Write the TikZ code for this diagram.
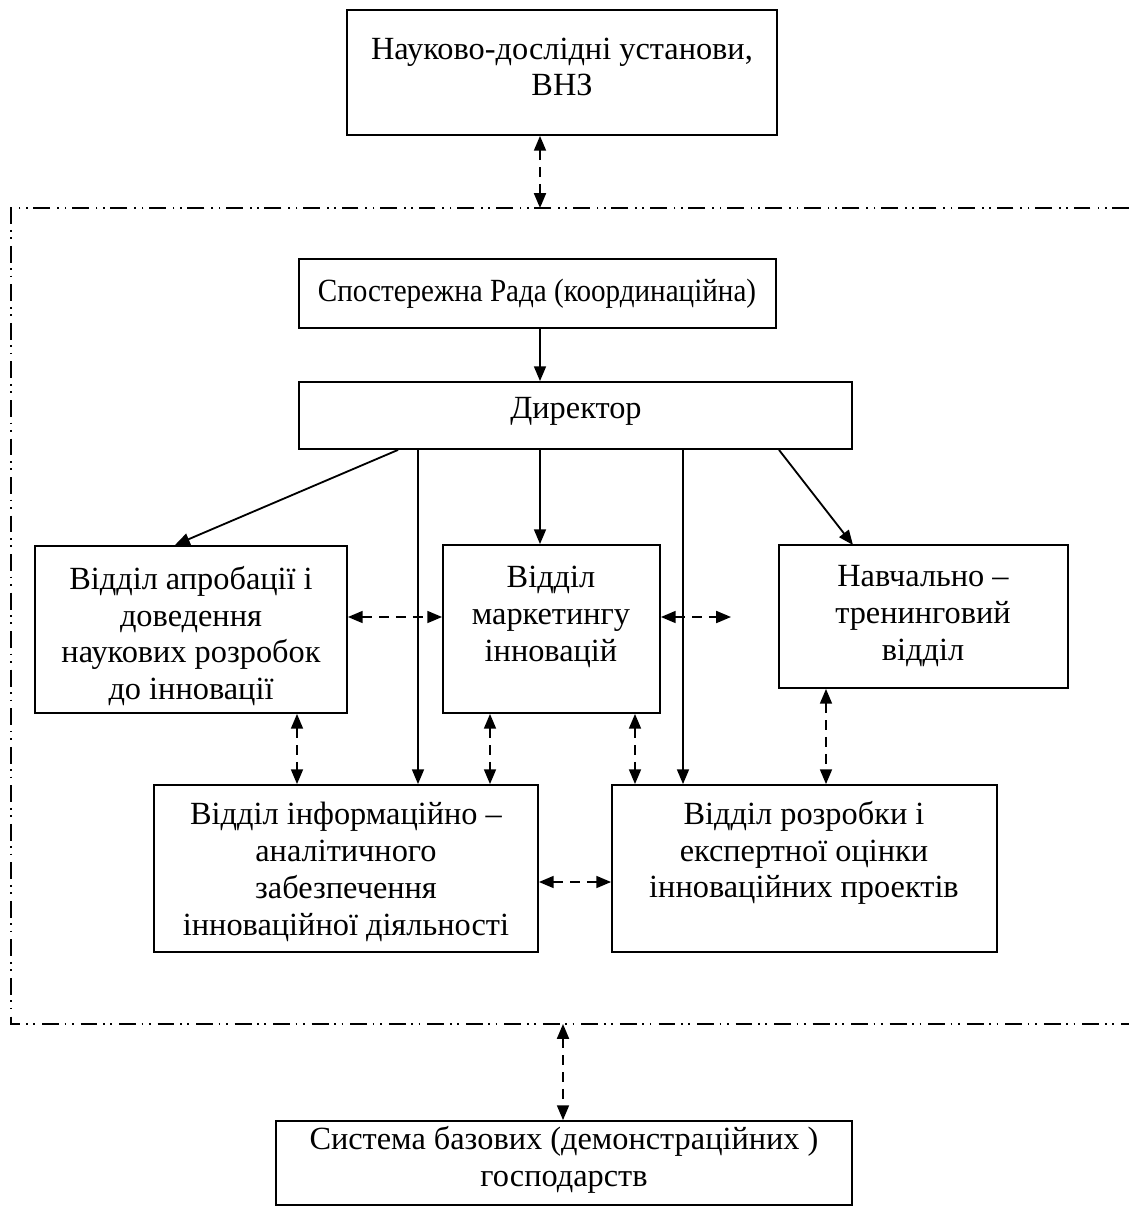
\documentclass[tikz,border=0pt]{standalone}
\usepackage{fontspec}
\usepackage{graphicx}
\setmainfont{Liberation Serif}
\usetikzlibrary{arrows.meta}
\begin{document}
\begin{tikzpicture}[x=0.025cm,y=-0.025cm,
  box/.style={draw,line width=1.3pt,inner sep=0pt},
  txt/.style={align=center,inner sep=0pt,font=\fontsize{23}{26.2}\selectfont},
  tip/.style={-{Triangle[length=10.5pt,width=8.5pt]},line width=1.3pt},
  dtip/.style={{Triangle[length=10.5pt,width=8.5pt]}-{Triangle[length=10.5pt,width=8.5pt]},line width=1.3pt,dash pattern=on 7pt off 5pt},
  frame/.style={line width=1pt,dash pattern=on 12pt off 4pt on 1.2pt off 4pt on 1.2pt off 5pt}]
\useasboundingbox (0,0) rectangle (1129,1211);
% boxes
\node[box,minimum width=430*0.025cm,minimum height=125*0.025cm] (nd) at (562,72.5) {};
\node[box,minimum width=477*0.025cm,minimum height=69*0.025cm] (sr) at (537.5,293.5) {};
\node[box,minimum width=553*0.025cm,minimum height=67*0.025cm] (dir) at (575.5,415.5) {};
\node[box,minimum width=312*0.025cm,minimum height=167*0.025cm] (ap) at (191,629.5) {};
\node[box,minimum width=217*0.025cm,minimum height=168*0.025cm] (mk) at (551.5,629) {};
\node[box,minimum width=289*0.025cm,minimum height=143*0.025cm] (nv) at (923.5,616.5) {};
\node[box,minimum width=384*0.025cm,minimum height=167*0.025cm] (ia) at (346,868.5) {};
\node[box,minimum width=385*0.025cm,minimum height=167*0.025cm] (rz) at (804.5,868.5) {};
\node[box,minimum width=576*0.025cm,minimum height=84*0.025cm] (sb) at (564,1163) {};
% texts
\node[txt] (tnd) at (562,67) {Науково-дослідні установи,\\ВНЗ};
\node[txt] (tsr) at (537,294) {\scalebox{0.9}[1]{Спостережна Рада (координаційна)}};
\node[txt] (tdir) at (576,411) {Директор};
\node[txt] (tap) at (191,636) {Відділ апробації і\\доведення\\наукових розробок\\до інновації};
\node[txt] (tmk) at (551,617) {Відділ\\маркетингу\\інновацій};
\node[txt] (tnv) at (923,616) {Навчально –\\тренинговий\\відділ};
\node[txt] (tia) at (346,872) {Відділ інформаційно –\\аналітичного\\забезпечення\\інноваційної діяльності};
\node[txt] (trz) at (804,853) {Відділ розробки і\\експертної оцінки\\інноваційних проектів};
\node[txt] (tsb) at (564,1160) {Система базових (демонстраційних )\\господарств};
% frame
\coordinate (fTR) at (1129,208);
\coordinate (fTL) at (11,208);
\coordinate (fBL) at (11,1024);
\coordinate (fBR) at (1129,1024);
\draw[frame] (fTR) -- (fTL) -- (fBL) -- (fBR);
% solid arrows
\draw[tip] (sr.south -| 540,0) -- (dir.north -| 540,0);
\draw[tip] (dir.south -| 398,0) -- (175,545);
\draw[tip] (dir.south -| 418,0) -- (ia.north -| 418,0);
\draw[tip] (dir.south -| 540,0) -- (mk.north -| 540,0);
\draw[tip] (dir.south -| 683,0) -- (rz.north -| 683,0);
\draw[tip] (dir.south -| 779,0) -- (853,545);
% dashed double arrows
\coordinate (fTop) at (540,208);
\coordinate (fBot) at (563,1024);
\coordinate (free) at (731,617);
\draw[dtip] (nd.south -| fTop) -- (fTop);
\draw[dtip] (ap.east |- 0,617) -- (mk.west |- 0,617);
\draw[dtip] (mk.east |- 0,617) -- (free);
\draw[dtip] (ap.south -| 297,0) -- (ia.north -| 297,0);
\draw[dtip] (mk.south -| 490,0) -- (ia.north -| 490,0);
\draw[dtip] (mk.south -| 635,0) -- (rz.north -| 635,0);
\draw[dtip] (nv.south -| 826,0) -- (rz.north -| 826,0);
\draw[dtip] (ia.east |- 0,882) -- (rz.west |- 0,882);
\draw[dtip] (fBot) -- (sb.north -| fBot);
\end{tikzpicture}
\end{document}
